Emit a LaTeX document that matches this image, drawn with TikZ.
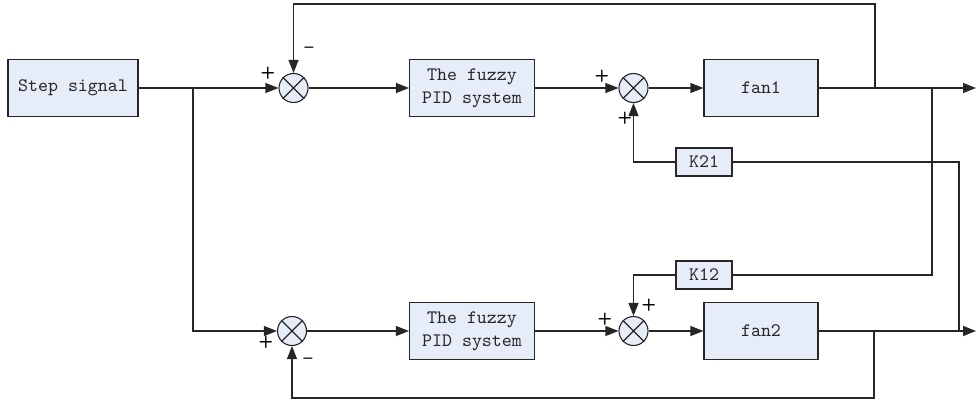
\documentclass[tikz,border=0pt]{standalone}
\usepackage{tikz}
\usetikzlibrary{arrows.meta}
\definecolor{boxfill}{RGB}{230,237,248}

\begin{document}
\begin{tikzpicture}[x=0.5pt,y=-0.5pt,line width=0.55pt,color=black!85,
		blk/.style={draw,fill=boxfill,minimum width=#1,minimum height=28.5pt,inner sep=0pt,
			font=\ttfamily\fontsize{9.5}{11.5}\selectfont,align=center},
		gain/.style={blk=28pt,minimum height=14pt},
		sumnode/.style={draw,circle,fill=boxfill,minimum size=14.5pt,inner sep=0pt},
		sgn/.style={inner sep=0pt,color=black,font=\sffamily\bfseries\fontsize{8.5}{9}\selectfont},
		arr/.style={-{Triangle[length=6.5pt,width=5pt]}}]
					\useasboundingbox (0,0) rectangle (977,401);
					% Blocks
					\node[blk=65pt] (step) at (73,88) {Step signal};
					\node[blk=62.5pt] (pid1) at (472,88) {The fuzzy\\PID system};
					\node[blk=62.5pt] (pid2) at (472,331) {The fuzzy\\PID system};
					\node[blk=57pt] (fan1) at (761,88) {fan1};
					\node[blk=57pt] (fan2) at (761,331) {fan2};
					\node[gain] (k21) at (704,162) {K21};
					\node[gain] (k12) at (704,275) {K12};
					% Summing junctions
					\node[sumnode] (s1) at (293.5,88) {};
					\node[sumnode] (s2) at (633.5,88) {};
					\node[sumnode] (s3) at (292,331) {};
					\node[sumnode] (s4) at (633.5,331) {};
					\foreach \s in {s1,s2,s3,s4} \draw (\s.45) -- (\s.225) (\s.135) -- (\s.-45);
					% Signs
					\node[sgn] (s1a) at (268,73) {+};
					\node[sgn] (s1b) at (309,50) {--};
					\node[sgn] (s2a) at (602,76) {+};
					\node[sgn] (s2b) at (625,118) {+};
					\node[sgn] (s3a) at (266,342) {+};
					\node[sgn] (s3b) at (308,361) {--};
					\node[sgn] (s4a) at (605,319) {+};
					\node[sgn] (s4b) at (649,305) {+};
					% Branch points
					\coordinate (br) at (193,88);
					\coordinate (tap1) at (875,88);
					\coordinate (top) at (875,4);
					\coordinate (tap2) at (932,88);
					\coordinate (tap3) at (959,331);
					\coordinate (tap4) at (874,331);
					\coordinate (bot) at (874,398);
					\coordinate (out1) at (976,88);
					\coordinate (out2) at (976,331);
					% Forward paths
					\draw (step) -- (br);
					\draw[arr] (br) -- (s1);
					\draw[arr] (br) |- (s3);
					\draw[arr] (s1) -- (pid1);
					\draw[arr] (pid1) -- (s2);
					\draw[arr] (s2) -- (fan1);
					\draw[arr] (fan1) -- (out1);
					\draw[arr] (s3) -- (pid2);
					\draw[arr] (pid2) -- (s4);
					\draw[arr] (s4) -- (fan2);
					\draw[arr] (fan2) -- (out2);
					% Feedback and coupling
					\draw[arr] (tap1) -- (top) -| (s1);
					\draw[arr] (tap4) -- (bot) -| (s3);
					\draw (tap2) |- (k12);
					\draw[arr] (k12) -| (s4);
					\draw (tap3) |- (k21);
					\draw[arr] (k21) -| (s2);
				\end{tikzpicture}
\end{document}
